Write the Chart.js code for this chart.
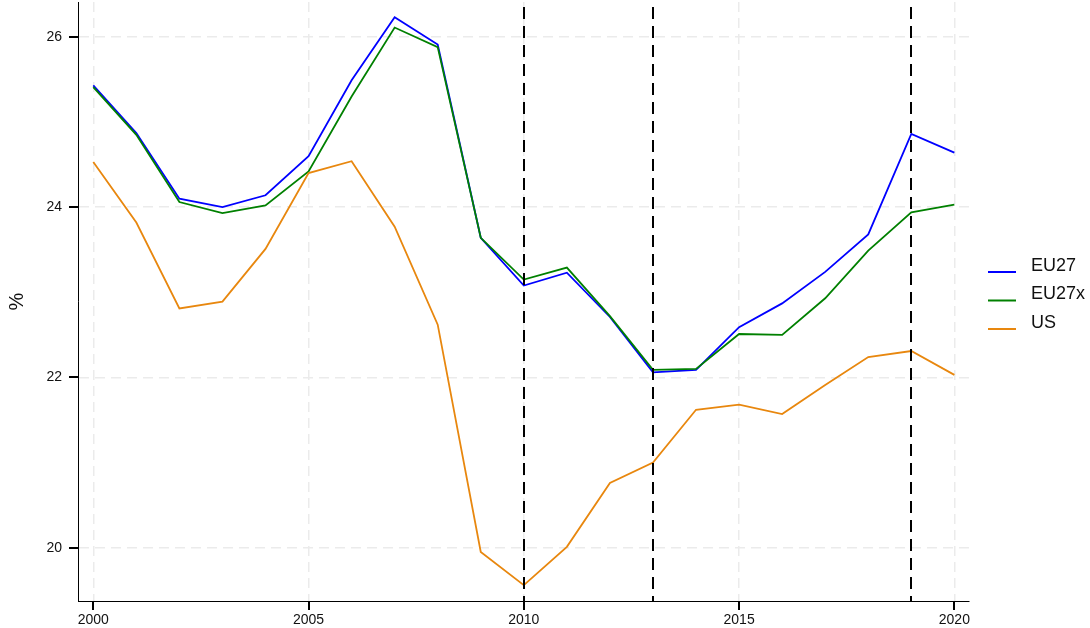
<!DOCTYPE html>
<html>
<head>
<meta charset="utf-8">
<script src="https://cdn.jsdelivr.net/npm/chart.js@4"></script>
<style>
html,body{margin:0;padding:0;background:#fff;}
#wrap{width:1090px;height:628px;position:relative;}
</style>
</head>
<body>
<div id="wrap"><canvas id="c" width="1090" height="628"></canvas></div>
<script>
const years = [2000,2001,2002,2003,2004,2005,2006,2007,2008,2009,2010,2011,2012,2013,2014,2015,2016,2017,2018,2019,2020];
const eu27  = [25.43,24.87,24.10,24.00,24.14,24.60,25.49,26.23,25.91,23.64,23.08,23.23,22.71,22.06,22.09,22.59,22.87,23.24,23.68,24.86,24.64];
const eu27x = [25.41,24.85,24.06,23.93,24.02,24.42,25.30,26.11,25.88,23.64,23.15,23.29,22.72,22.09,22.10,22.51,22.50,22.93,23.49,23.94,24.03];
const us    = [24.53,23.82,22.81,22.89,23.51,24.40,24.54,23.77,22.62,19.95,19.56,20.01,20.76,21.00,21.62,21.68,21.57,21.91,22.24,22.31,22.03];
const xTicks = [2000,2005,2010,2015,2020];
const yTicks = [20,22,24,26];
const markerYears = [2010,2013,2019];
const seriesNames = ['EU27','EU27x','US'];
const seriesColors = ['#0000ff','#008000','#e8870e'];

const FONT = "'Liberation Sans', Arial, sans-serif";

const overlayPlugin = {
  id: 'overlay',
  afterDatasetsDraw(chart) {
    const {ctx, chartArea, scales} = chart;
    ctx.save();
    ctx.strokeStyle = '#000';
    ctx.lineWidth = 2;
    ctx.setLineDash([12,7]);
    markerYears.forEach(yr => {
      const x = Math.round(scales.x.getPixelForValue(yr));
      ctx.beginPath();
      ctx.moveTo(x, chartArea.top + 5);
      ctx.lineTo(x, chartArea.bottom);
      ctx.stroke();
    });
    ctx.restore();
  },
  afterDraw(chart) {
    const {ctx, chartArea, scales} = chart;
    ctx.save();
    ctx.setLineDash([]);
    ctx.strokeStyle = '#000';
    ctx.lineWidth = 2;
    ctx.beginPath();
    xTicks.forEach(v => {
      const x = Math.round(scales.x.getPixelForValue(v));
      ctx.moveTo(x, chartArea.bottom);
      ctx.lineTo(x, chartArea.bottom + 9);
    });
    yTicks.forEach(v => {
      const y = Math.round(scales.y.getPixelForValue(v));
      ctx.moveTo(chartArea.left - 9, y);
      ctx.lineTo(chartArea.left, y);
    });
    ctx.stroke();
    ctx.font = '18px ' + FONT;
    ctx.textBaseline = 'middle';
    ctx.textAlign = 'left';
    seriesNames.forEach((n, i) => {
      const y = 272 + i * 28.5;
      ctx.strokeStyle = seriesColors[i];
      ctx.lineWidth = 2;
      ctx.beginPath();
      ctx.moveTo(988, y);
      ctx.lineTo(1016, y);
      ctx.stroke();
      ctx.fillStyle = '#111';
      ctx.fillText(n, 1031, y - 6);
    });
    ctx.restore();
  }
};

function mk(arr) { return years.map((yr, i) => ({x: yr, y: arr[i]})); }

const datasets = [
  {label: seriesNames[0], data: mk(eu27), borderColor: seriesColors[0], order: 2},
  {label: seriesNames[1], data: mk(eu27x), borderColor: seriesColors[1], order: 1},
  {label: seriesNames[2], data: mk(us), borderColor: seriesColors[2], order: 0}
].map(d => Object.assign(d, {borderWidth: 1.8, pointRadius: 0, tension: 0, fill: false}));

const gridOpts = {color: '#ebebeb', lineWidth: 1.5, drawTicks: true, tickLength: 9, tickColor: 'rgba(0,0,0,0)'};
const borderOpts = {display: true, color: '#000', width: 1, dash: [10,6]};

new Chart(document.getElementById('c'), {
  type: 'line',
  data: {datasets},
  options: {
    responsive: false,
    animation: false,
    devicePixelRatio: 1,
    layout: {padding: {top: 2, right: 121, left: 0, bottom: 0}},
    plugins: {legend: {display: false}, tooltip: {enabled: false}},
    scales: {
      x: {
        type: 'linear',
        min: 1999.645,
        max: 2020.34,
        afterBuildTicks: s => { s.ticks = xTicks.map(v => ({value: v})); },
        afterFit: s => { s.height = 27; s.paddingLeft = 0; s.paddingRight = 0; },
        grid: gridOpts,
        border: borderOpts,
        ticks: {color: '#111', font: {family: FONT, size: 14}, padding: 2, maxRotation: 0, callback: v => String(v)},
      },
      y: {
        type: 'linear',
        min: 19.374,
        max: 26.41,
        afterBuildTicks: s => { s.ticks = yTicks.map(v => ({value: v})); },
        afterFit: s => { s.width = 78; s.paddingTop = 0; s.paddingBottom = 0; },
        grid: gridOpts,
        border: borderOpts,
        ticks: {color: '#111', font: {family: FONT, size: 14}, padding: 7, callback: v => String(v)},
        title: {display: true, text: '%', color: '#111', font: {family: FONT, size: 20}, padding: {top: 5, bottom: 0}}
      }
    }
  },
  plugins: [overlayPlugin]
});
</script>
</body>
</html>
